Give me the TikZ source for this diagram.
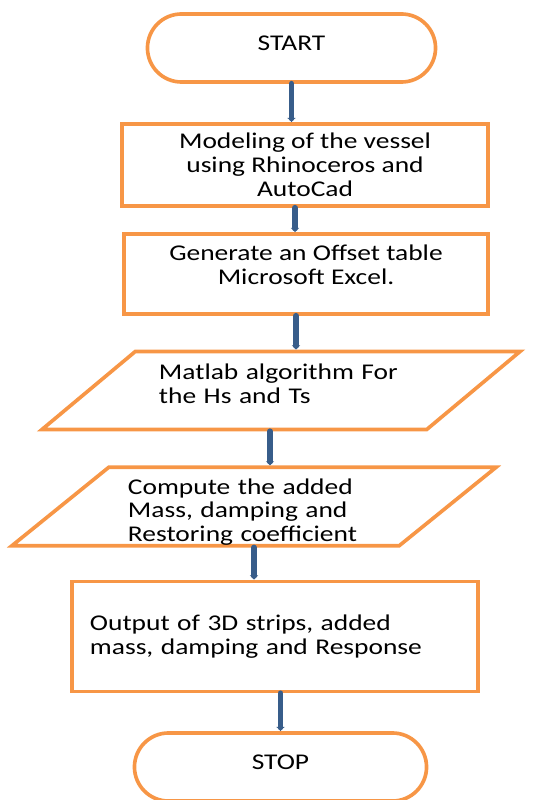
\documentclass[tikz,border=0pt]{standalone}
\usepackage{fontspec}
\setmainfont{Carlito}[FakeStretch=1.22]
\usetikzlibrary{shapes, arrows.meta}

\definecolor{boxorange}{HTML}{F79646}
\definecolor{flowblue}{HTML}{385D8A}

\begin{document}
\begin{tikzpicture}[x=0.025cm, y=-0.025cm]
      \tikzstyle{terminal} = [
        rectangle,
        draw=boxorange,
        line width=2.6pt,
        rounded corners=0.85cm,
        minimum width=7.2cm,
        minimum height=1.7cm,
        text centered
      ]

      \tikzstyle{process} = [
        rectangle,
        draw=boxorange,
        line width=2.6pt,
        text centered,
        align=center
      ]

      \tikzstyle{io} = [
        trapezium,
        trapezium left angle=39,
        trapezium right angle=141,
        trapezium stretches body=true,
        draw=boxorange,
        line width=2.6pt,
        minimum height=1.95cm,
        align=left
      ]

      \tikzstyle{flow} = [
        draw=flowblue,
        line width=4.2pt,
        line cap=round,
        -{Latex[length=3pt,width=6.5pt]}
      ]

      \tikzset{every node/.style={font=\fontsize{16}{17}\selectfont}}

      \useasboundingbox (0,0) rectangle (540,800);

      \node[terminal] (start) at (291.5,48) {START\rule[-7pt]{0pt}{0pt}};
      \node[process, minimum width=9.15cm, minimum height=2.05cm] (modeling) at (305,165)
      {Modeling of the vessel\\using Rhinoceros and\\AutoCad};
      \node[process, minimum width=9.1cm, minimum height=2.0cm, text depth=0.45cm] (offset) at (306,274)
      {Generate an Offset table\\Microsoft Excel.};
      \node[io, trapezium left angle=34, trapezium right angle=146, minimum width=11.95cm, text width=6.1cm] (matlab) at (281,390.5)
      {Matlab algorithm For\\the Hs and Ts\rule[-10pt]{0pt}{0pt}};
      \node[io, minimum width=12.1cm, text width=6.3cm, inner ysep=0pt] (compute) at (254,506.5)
      {\rule{0pt}{19pt}Compute the added\\Mass, damping and\\Restoring coefficient};
      \node[process, minimum width=10.15cm, minimum height=2.75cm, text width=9.25cm, align=left] (output) at (275,636.5)
      {Output of 3D strips, added\\mass, damping and Response};
      \node[terminal, minimum width=7.3cm] (stop) at (280.5,767) {STOP\rule[-7pt]{0pt}{0pt}};

      \draw[flow] (start.south) -- (start.south |- modeling.north);
      \draw[flow] ([xshift=-0.25cm]modeling.south) -- ([xshift=-0.25cm]modeling.south |- offset.north);
      \draw[flow] ([xshift=-0.25cm]offset.south) -- ([xshift=-0.25cm]offset.south |- matlab.north);
      \draw[flow] ([xshift=-0.275cm]matlab.south) -- ([xshift=-0.275cm]matlab.south |- compute.north);
      \draw[flow] (compute.south) -- (compute.south |- output.north);
      \draw[flow] (output.south -| stop.north) -- (stop.north);
    \end{tikzpicture}
\end{document}
